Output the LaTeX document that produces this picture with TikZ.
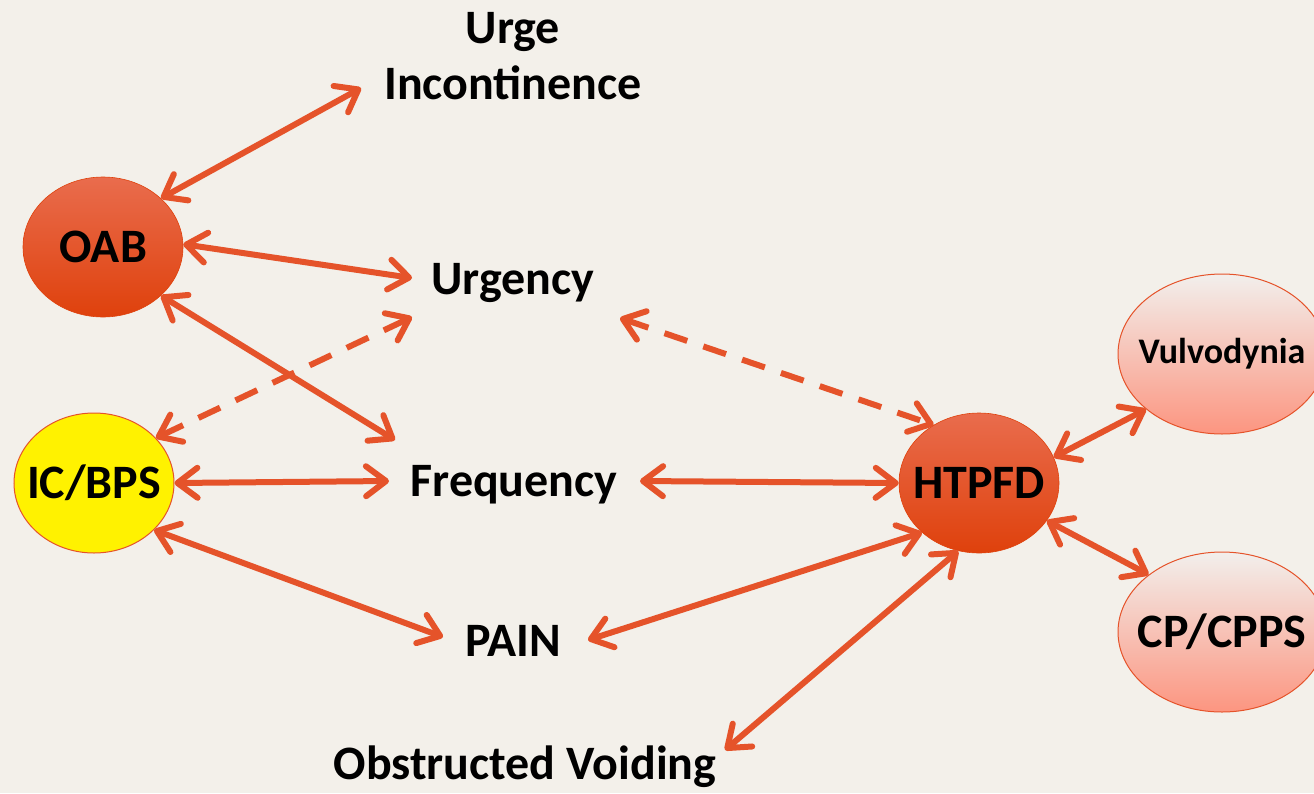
\documentclass[tikz,border=0pt]{standalone}
\usepackage{fontspec}
\setmainfont{Carlito}
\usetikzlibrary{arrows.meta,shapes.geometric}
\definecolor{bgc}{HTML}{F3F0EA}
\definecolor{arr}{HTML}{E5532A}
\definecolor{redtop}{HTML}{E96C4D}
\definecolor{redbot}{HTML}{DF410C}
\definecolor{pinktop}{HTML}{F2EFEC}
\definecolor{pinkbot}{HTML}{FC9580}
\tikzset{
  lbl/.style={font=\bfseries\fontsize{48}{56}\selectfont, inner sep=0pt, align=center},
  circ/.style={ellipse, inner sep=0pt, minimum width=160pt, minimum height=140pt, label={[lbl]center:#1}},
  redc/.style={circ=#1, draw=redbot, line width=0.6pt, top color=redtop, bottom color=redbot},
  yelc/.style={circ=#1, draw=arr, line width=1pt, fill=yellow},
  pinkc/.style={ellipse, inner sep=0pt, minimum width=208pt, minimum height=160pt, draw=arr, line width=1pt, top color=pinktop, bottom color=pinkbot},
  link/.style={draw=arr, line width=6pt, {Straight Barb[length=20pt,width=30pt,round]}-{Straight Barb[length=20pt,width=30pt,round]}},
  dlink/.style={link, dash pattern=on 24pt off 17pt},
}
\begin{document}
\begin{tikzpicture}[x=1pt,y=-1pt]
\fill[bgc] (0,0) rectangle (1314,793);
\useasboundingbox (0,0) rectangle (1314,793);

\node[lbl] (ui) at (513,56) {Urge\\Incontinence};
\node[lbl] (urg) at (513,283) {Urgency};
\node[lbl] (freq) at (514,485) {Frequency};
\node[lbl] (pain) at (513,641) {PAIN};
\node[lbl] (ov) at (525,767) {Obstructed Voiding};

\node[redc={OAB}] (oab) at (103,247) {};
\node[yelc={IC/BPS}] (ic) at (94,483) {};
\node[redc={HTPFD}] (ht) at (979,483) {};
\node[pinkc, label={[lbl, font=\bfseries\fontsize{36}{40}\selectfont]center:Vulvodynia}] (vul) at (1222,354) {};
\node[pinkc, label={[lbl]center:CP/CPPS}] (cp) at (1222,632) {};

% free ends near text labels
\coordinate (ui-sw) at (361,88);
\coordinate (urg-w) at (412,278);
\coordinate (urg-sw) at (412,317);
\coordinate (urg-se) at (620,318);
\coordinate (freq-nw) at (395,440);
\coordinate (freq-w) at (389,481);
\coordinate (freq-e) at (640,481);
\coordinate (pain-w) at (443,637);
\coordinate (pain-e) at (588,640);
\coordinate (ov-ne) at (725,750);

\draw[link] (oab.40) -- (ui-sw);
\draw[link] (oab.2) -- (urg-w);
\draw[link] (oab.-40) -- (freq-nw);
\draw[dlink] (ic.36) -- (urg-sw);
\draw[link] (ic.0) -- (freq-w);
\draw[link] (ic.-38) -- (pain-w);
\draw[dlink] (urg-se) -- (ht.128);
\draw[link] (freq-e) -- (ht.180);
\draw[link] (pain-e) -- (ht.221);
\draw[link] (ov-ne) -- (ht.253);
\draw[link] (ht.19) -- (vul.216);
\draw[link] (ht.-29) -- (cp.142);
\end{tikzpicture}
\end{document}
